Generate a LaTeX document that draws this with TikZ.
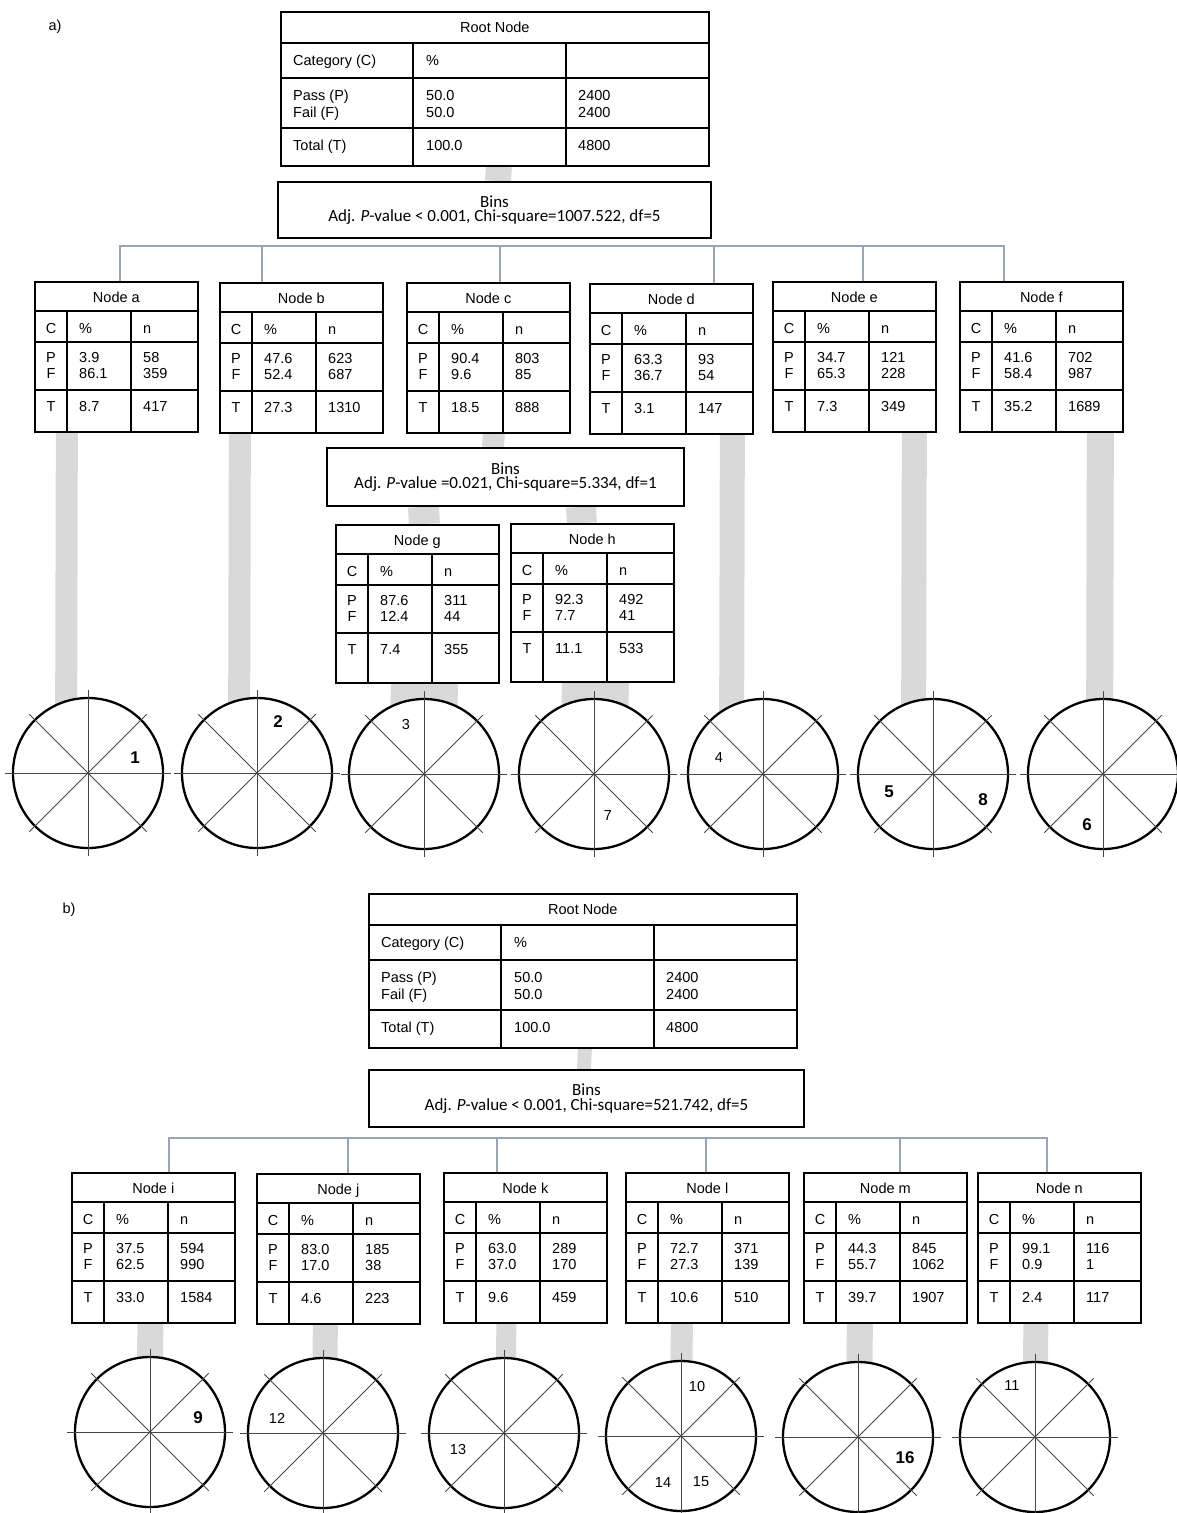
\documentclass[tikz,border=0pt]{standalone}
\usepackage{fontspec}
\setmainfont{Liberation Sans}
\newfontfamily\calibri{Carlito}
\usepackage{xcolor}
\usepackage{tikz}
\usetikzlibrary{positioning, calc, backgrounds}

\definecolor{barGray}{RGB}{217,217,217}
\definecolor{busBlue}{RGB}{150,166,182}
\definecolor{spokeGray}{RGB}{70,70,70}

\newcommand{\rootnode}[2]{%
  \node (#1) [rootbox] at (#2) {};
  \draw [cellrule] ($(#1.north west)+(0,32)$) -- ($(#1.north east)+(0,32)$)
    ($(#1.north west)+(0,67)$) -- ($(#1.north east)+(0,67)$)
    ($(#1.north west)+(0,117)$) -- ($(#1.north east)+(0,117)$)
    ($(#1.north west)+(133,32)$) -- ($(#1.south west)+(133,0)$)
    ($(#1.north west)+(286,32)$) -- ($(#1.south west)+(286,0)$);
  \node (#1-t) [txt, anchor=base] at ($(#1.north)+(0,21.3)$) {Root Node};
  \node (#1-c) [txt] at ($(#1.north west)+(13,54.7)$) {Category (C)};
  \node (#1-h) [txt] at ($(#1.north west)+(146,54.7)$) {\%};
  \node (#1-p) [txt] at ($(#1.north west)+(13,89)$) {Pass (P)};
  \node (#1-f) [txt] at ($(#1.north west)+(13,106.3)$) {Fail (F)};
  \node (#1-p1) [txt] at ($(#1.north west)+(146,89)$) {50.0};
  \node (#1-f1) [txt] at ($(#1.north west)+(146,106.3)$) {50.0};
  \node (#1-p2) [txt] at ($(#1.north west)+(298,89)$) {2400};
  \node (#1-f2) [txt] at ($(#1.north west)+(298,106.3)$) {2400};
  \node (#1-tt) [txt] at ($(#1.north west)+(13,139.7)$) {Total (T)};
  \node (#1-t1) [txt] at ($(#1.north west)+(146,139.7)$) {100.0};
  \node (#1-t2) [txt] at ($(#1.north west)+(298,139.7)$) {4800};
}

\newcommand{\leaf}[9]{%
  \node (#1) [leafbox] at (#2) {};
  \draw [cellrule] ($(#1.north west)+(0,30)$) -- ($(#1.north east)+(0,30)$)
    ($(#1.north west)+(0,61)$) -- ($(#1.north east)+(0,61)$)
    ($(#1.north west)+(0,109)$) -- ($(#1.north east)+(0,109)$)
    ($(#1.north west)+(33,30)$) -- ($(#1.south west)+(33,0)$)
    ($(#1.north west)+(97,30)$) -- ($(#1.south west)+(97,0)$);
  \node (#1-t) [txt, anchor=base] at ($(#1.north)+(0,21.3)$) {#3};
  \node (#1-c) [txt, anchor=base] at ($(#1.north west)+(17,52)$) {C};
  \node (#1-h1) [txt] at ($(#1.north west)+(45,52)$) {\%};
  \node (#1-h2) [txt] at ($(#1.north west)+(109,52)$) {n};
  \node (#1-p) [txt, anchor=base] at ($(#1.north west)+(17,81)$) {P};
  \node (#1-f) [txt, anchor=base] at ($(#1.north west)+(17,97.3)$) {F};
  \node (#1-p1) [txt] at ($(#1.north west)+(45,81)$) {#4};
  \node (#1-f1) [txt] at ($(#1.north west)+(45,97.3)$) {#5};
  \node (#1-p2) [txt] at ($(#1.north west)+(109,81)$) {#6};
  \node (#1-f2) [txt] at ($(#1.north west)+(109,97.3)$) {#7};
  \node (#1-tt) [txt, anchor=base] at ($(#1.north west)+(17,130)$) {T};
  \node (#1-t1) [txt] at ($(#1.north west)+(45,130)$) {#8};
  \node (#1-t2) [txt] at ($(#1.north west)+(109,130)$) {#9};
}

\begin{document}
\begin{tikzpicture}[
        x=1pt, y=-1pt,
        txt/.style={inner sep=0pt, anchor=base west, font=\fontsize{14.5}{17}\selectfont},
        leafbox/.style={rectangle, draw, line width=1.7pt, anchor=north west, minimum width=163pt, minimum height=150pt, inner sep=0pt},
        rootbox/.style={leafbox, minimum width=428pt, minimum height=154pt},
        cellrule/.style={line width=1.7pt},
        bins/.style={rectangle, draw, line width=1.7pt, align=center, inner sep=0pt, font=\calibri\fontsize{17}{14.5}\selectfont},
        bar/.style={draw=barGray, line width=#1},
        bus/.style={draw=busBlue, line width=1.3pt},
        wheel/.style={circle, draw, line width=2.3pt, minimum size=150pt, inner sep=0pt, fill=white},
        spoke/.style={draw=spokeGray, line width=1pt},
        lbl/.style={inner sep=0pt, font=\fontsize{14.5}{17}\selectfont},
        lblb/.style={inner sep=0pt, font=\bfseries\fontsize{17}{20}\selectfont}
    ]
        \useasboundingbox (0,0) rectangle (1176,1513);

        % a)
        \node (parta) [lbl] at (55,27) {a)};
        \rootnode{rootA}{280,11}
        \node (binsA) [bins, minimum width=433pt, minimum height=56pt] at (494.5,210) {Bins\\Adj. \textit{P}-value < 0.001, Chi-square=1007.522, df=5};
        \leaf{na}{34,281}{Node a}{3.9}{86.1}{58}{359}{8.7}{417}
        \leaf{nb}{219,282}{Node b}{47.6}{52.4}{623}{687}{27.3}{1310}
        \leaf{nc}{406,282}{Node c}{90.4}{9.6}{803}{85}{18.5}{888}
        \leaf{nd}{589,283}{Node d}{63.3}{36.7}{93}{54}{3.1}{147}
        \leaf{ne}{772,281}{Node e}{34.7}{65.3}{121}{228}{7.3}{349}
        \leaf{nf}{959,281}{Node f}{41.6}{58.4}{702}{987}{35.2}{1689}
        \node (bins2) [bins, minimum width=357pt, minimum height=58pt] at (505.5,477) {Bins\\Adj. \textit{P}-value =0.021, Chi-square=5.334, df=1};
        \begin{scope}[leafbox/.append style={minimum height=158pt}]
            \leaf{ng}{335,524}{Node g}{87.6}{12.4}{311}{44}{7.4}{355}
            \leaf{nh}{510,523}{Node h}{92.3}{7.7}{492}{41}{11.1}{533}
        \end{scope}

        \node (ca) [wheel] at (88,773) {};
        \node (cb) [wheel] at (257,773) {};
        \node (cg) [wheel] at (424,774) {};
        \node (ch) [wheel] at (594,774) {};
        \node (cd) [wheel] at (763,774) {};
        \node (ce) [wheel] at (933,774) {};
        \node (cf) [wheel] at (1103,774) {};

        \coordinate (busA) at ([yshift=-7pt]binsA.south);
        \draw [bus] (busA) -| ([xshift=3.5pt]na.north);
        \draw [bus] (busA) -| ([xshift=-39.5pt]nb.north);
        \draw [bus] (busA) -| ([xshift=11.5pt]nc.north);
        \draw [bus] (busA) -| ([xshift=42.5pt]nd.north);
        \draw [bus] (busA) -| ([xshift=8.5pt]ne.north);
        \draw [bus] (busA) -| ([xshift=-37.5pt]nf.north);

        % b)
        \node (partb) [lbl] at (69,910) {b)};
        \rootnode{rootB}{368,893}
        \node (binsB) [bins, minimum width=435pt, minimum height=57pt] at (586.5,1098.5) {Bins\\Adj. \textit{P}-value < 0.001, Chi-square=521.742, df=5};
        \leaf{ni}{71,1172}{Node i}{37.5}{62.5}{594}{990}{33.0}{1584}
        \leaf{nj}{256,1173}{Node j}{83.0}{17.0}{185}{38}{4.6}{223}
        \leaf{nk}{443,1172}{Node k}{63.0}{37.0}{289}{170}{9.6}{459}
        \leaf{nl}{625,1172}{Node l}{72.7}{27.3}{371}{139}{10.6}{510}
        \leaf{nm}{803,1172}{Node m}{44.3}{55.7}{845}{1062}{39.7}{1907}
        \leaf{nn}{977,1172}{Node n}{99.1}{0.9}{116}{1}{2.4}{117}

        \node (ci) [wheel] at (150,1432) {};
        \node (cj) [wheel] at (323,1433) {};
        \node (ck) [wheel] at (504,1433) {};
        \node (cl) [wheel] at (681,1436) {};
        \node (cm) [wheel] at (858,1437) {};
        \node (cn) [wheel] at (1035,1437) {};

        \coordinate (busB) at ([yshift=-10pt]binsB.south);
        \draw [bus] (busB) -| ([xshift=15.5pt]ni.north);
        \draw [bus] (busB) -| ([xshift=9.5pt]nj.north);
        \draw [bus] (busB) -| ([xshift=-28.5pt]nk.north);
        \draw [bus] (busB) -| ([xshift=-1.5pt]nl.north);
        \draw [bus] (busB) -| ([xshift=14.5pt]nm.north);
        \draw [bus] (busB) -| ([xshift=-12.5pt]nn.north);

        \begin{scope}[on background layer]
            \draw [bar=26pt] ([xshift=4pt]rootA.south) -- ([xshift=3.5pt]binsA.north);
            \draw [bar=22pt] ([xshift=-49.5pt]na.south) -- ([xshift=-22pt]ca.center);
            \draw [bar=22pt] ([xshift=-61.5pt]nb.south) -- ([xshift=-18pt]cb.center);
            \draw [bar=22pt] ([xshift=5.5pt]nc.south) -- ([xshift=-12.5pt]bins2.north);
            \draw [bar=31pt] ([xshift=-82pt]bins2.south) -- ([xshift=7pt]ng.north);
            \draw [bar=30pt] ([xshift=75.5pt]bins2.south) -- ([xshift=-10.5pt]nh.north);
            \draw [bar=67pt] ([xshift=7pt]ng.south) -- ([xshift=-0.5pt]cg.center);
            \draw [bar=67pt] ([xshift=3pt]nh.south) -- ([xshift=0.5pt]ch.center);
            \draw [bar=25pt] ([xshift=61pt]nd.south) -- ([xshift=-31.5pt]cd.center);
            \draw [bar=25pt] ([xshift=60pt]ne.south) -- ([xshift=-19.5pt]ce.center);
            \draw [bar=27pt] ([xshift=59pt]nf.south) -- ([xshift=-3.5pt]cf.center);
            \draw [bar=14pt] ([xshift=2pt]rootB.south) -- ([xshift=-2.5pt]binsB.north);
            \draw [bar=26pt] ([xshift=-3pt]ni.south) -- ([xshift=-0.5pt]ci.center);
            \draw [bar=25pt] ([xshift=-13pt]nj.south) -- ([xshift=1.5pt]cj.center);
            \draw [bar=20pt] ([xshift=-19pt]nk.south) -- ([xshift=1.5pt]ck.center);
            \draw [bar=22pt] ([xshift=-25.5pt]nl.south) -- (cl.center);
            \draw [bar=26pt] ([xshift=-25.5pt]nm.south) -- ([xshift=1pt]cm.center);
            \draw [bar=25pt] ([xshift=-23.5pt]nn.south) -- (cn.center);
        \end{scope}

        \foreach \w in {ca,cb,cg,ch,cd,ce,cf,ci,cj,ck,cl,cm,cn}
            \foreach \a in {0,45,90,135}
                \draw [spoke] ([shift={(\a:83pt)}]\w.center) -- ([shift={(\a+180:83pt)}]\w.center);

        \node (s1) [lblb] at ($(ca.center)+(47,-15)$) {1};
        \node (s2) [lblb] at ($(cb.center)+(21,-51)$) {2};
        \node (s3) [lbl] at ($(cg.center)+(-18,-50)$) {3};
        \node (s7) [lbl] at ($(ch.center)+(14,42)$) {7};
        \node (s4) [lbl] at ($(cd.center)+(-44,-16)$) {4};
        \node (s5) [lblb] at ($(ce.center)+(-44,18)$) {5};
        \node (s8) [lblb] at ($(ce.center)+(50,26)$) {8};
        \node (s6) [lblb] at ($(cf.center)+(-16,51)$) {6};
        \node (s9) [lblb] at ($(ci.center)+(48,-14)$) {9};
        \node (s12) [lbl] at ($(cj.center)+(-46,-15)$) {12};
        \node (s13) [lbl] at ($(ck.center)+(-46,16)$) {13};
        \node (s10) [lbl] at ($(cl.center)+(16,-50)$) {10};
        \node (s14) [lbl] at ($(cl.center)+(-18,46)$) {14};
        \node (s15) [lbl] at ($(cl.center)+(20,46)$) {15};
        \node (s16) [lblb] at ($(cm.center)+(47,21)$) {16};
        \node (s11) [lbl] at ($(cn.center)+(-23,-52)$) {11};
    \end{tikzpicture}
\end{document}
